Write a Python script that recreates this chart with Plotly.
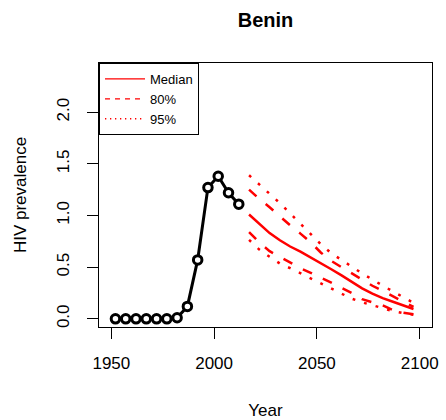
import plotly.graph_objects as go

# ---- data ----
hist_years = [1952, 1957, 1962, 1967, 1972, 1977, 1982, 1987, 1992, 1997, 2002, 2007, 2012]
hist_prev = [0.0, 0.0, 0.0, 0.0, 0.0, 0.0, 0.01, 0.12, 0.57, 1.27, 1.38, 1.22, 1.11]

proj_years = [2017, 2022, 2027, 2032, 2037, 2042, 2047, 2052, 2057, 2062, 2067, 2072, 2077, 2082, 2087, 2092, 2097]
median = [1.01, 0.92, 0.83, 0.76, 0.70, 0.65, 0.595, 0.54, 0.48, 0.42, 0.36, 0.295, 0.245, 0.20, 0.165, 0.13, 0.095]
upper80 = [1.25, 1.16, 1.08, 0.99, 0.905, 0.825, 0.74, 0.64, 0.56, 0.50, 0.44, 0.375, 0.32, 0.27, 0.22, 0.17, 0.115]
lower80 = [0.84, 0.74, 0.655, 0.60, 0.545, 0.49, 0.445, 0.40, 0.35, 0.30, 0.25, 0.19, 0.163, 0.13, 0.085, 0.06, 0.045]
upper95 = [1.39, 1.30, 1.21, 1.12, 1.02, 0.92, 0.83, 0.72, 0.635, 0.57, 0.50, 0.44, 0.38, 0.32, 0.265, 0.21, 0.155]
lower95 = [0.765, 0.67, 0.60, 0.535, 0.49, 0.44, 0.39, 0.345, 0.29, 0.24, 0.195, 0.16, 0.13, 0.10, 0.075, 0.055, 0.04]

x_ticks = [1950, 2000, 2050, 2100]
y_ticks = [0.0, 0.5, 1.0, 1.5, 2.0]
y_tick_labels = ["0.0", "0.5", "1.0", "1.5", "2.0"]

RED = "#ff0000"
FONT = "Liberation Sans, Arial, sans-serif"

fig = go.Figure()

# historical series (type="b" style)
fig.add_trace(go.Scatter(
    x=hist_years, y=hist_prev, mode="lines+markers",
    line=dict(color="black", width=3),
    marker=dict(symbol="circle", size=8.5, color="white",
                line=dict(color="black", width=3)),
    showlegend=False, hoverinfo="skip"))

# projection lines
for ys, dash in [(upper95, "2.8px,9.2px"), (lower95, "2.8px,9.2px"),
                 (upper80, "10px,12px"), (lower80, "10px,12px"),
                 (median, "solid")]:
    fig.add_trace(go.Scatter(
        x=proj_years, y=ys, mode="lines",
        line=dict(color=RED, width=2.5, dash=dash),
        showlegend=False, hoverinfo="skip"))

# legend entries (thin lines like R legend)
for name, dash in [("Median", "solid"), ("80%", "5px,5px"), ("95%", "1.3px,3.7px")]:
    fig.add_trace(go.Scatter(
        x=[None], y=[None], mode="lines", name=name,
        line=dict(color=RED, width=1.3, dash=dash)))

axis_common = dict(
    showline=True, mirror=True, linecolor="black", linewidth=1,
    ticks="outside", ticklen=11, tickcolor="black", tickwidth=1,
    showgrid=False, zeroline=False,
    tickfont=dict(family=FONT, size=17, color="black"),
)

fig.update_layout(
    width=446, height=420,
    margin=dict(l=99, r=14, t=63, b=92.5, pad=0, autoexpand=False),
    paper_bgcolor="white", plot_bgcolor="white",
    font=dict(family=FONT, color="black"),
    title=dict(text="<b>Benin</b>", x=0.5, xref="paper", xanchor="center",
               y=1 - 20 / 420, yref="container", yanchor="middle",
               font=dict(family=FONT, size=20, color="black")),
    xaxis=dict(range=[1944, 2106], tickvals=x_ticks,
               ticklabelstandoff=10,
               title=dict(text="Year", standoff=34,
                          font=dict(family=FONT, size=17, color="black")),
               **axis_common),
    yaxis=dict(range=[-0.079, 2.476], tickvals=y_ticks, ticktext=y_tick_labels,
               tickangle=-90, ticklabelstandoff=11,
               title=dict(text="HIV prevalence", standoff=23,
                          font=dict(family=FONT, size=17, color="black")),
               **axis_common),
    legend=dict(x=0, y=1, xanchor="left", yanchor="top",
                bordercolor="black", borderwidth=1, bgcolor="white",
                font=dict(family=FONT, size=13, color="black"),
                tracegroupgap=0, itemwidth=40),
)

fig.write_html("out.html",
               config={"displayModeBar": False},
               post_script="document.body.style.margin='0';document.body.style.overflow='hidden';")
